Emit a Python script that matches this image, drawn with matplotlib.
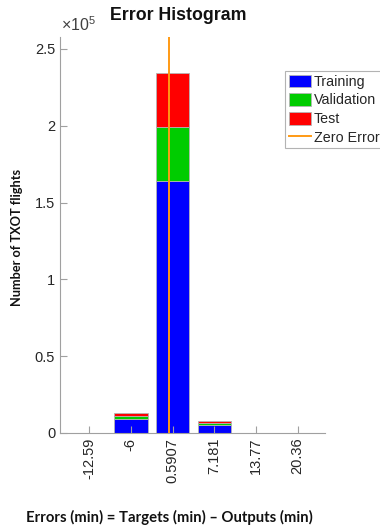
import numpy as np
import matplotlib.pyplot as plt
from matplotlib.ticker import FuncFormatter

bins = [-12.59, -6, 0.5907, 7.181, 13.77, 20.36]
tick_labels = ['-12.59', '-6', '0.5907', '7.181', '13.77', '20.36']
training = [0, 9100, 164300, 5000, 150, 0]
validation = [0, 2200, 35100, 1500, 30, 0]
test = [0, 1900, 35200, 1100, 30, 0]
zero_error = 0

plt.rcParams['font.family'] = ['Liberation Sans', 'DejaVu Sans']
plt.rcParams['mathtext.fontset'] = 'custom'
plt.rcParams['mathtext.rm'] = 'Liberation Sans'

fig = plt.figure(figsize=(3.8, 5.31), dpi=100)
W, H = 380, 531
ax = fig.add_axes([60 / W, 1 - 433 / H, (325 - 60) / W, (433 - 37) / H])

x = np.array(bins)
w = 0.8 * (bins[1] - bins[0])
tr = np.array(training)
va = np.array(validation)
te = np.array(test)
ec = '#b4b4b4'
h1 = ax.bar(x, tr, w, color='#0000ff', edgecolor=ec, linewidth=0.6, label='Training')
h2 = ax.bar(x, va, w, bottom=tr, color='#00cc00', edgecolor=ec, linewidth=0.6, label='Validation')
h3 = ax.bar(x, te, w, bottom=tr + va, color='#ff0000', edgecolor=ec, linewidth=0.6, label='Test')
h4 = ax.axvline(zero_error, color='#ff9a14', linewidth=1.4, label='Zero Error')

ax.set_xlim(-17.2, 24.7)
ax.set_ylim(0, 2.578e5)
ax.set_xticks(bins)
ax.set_xticklabels(tick_labels, rotation=90)
ax.set_yticks([0, 0.5e5, 1e5, 1.5e5, 2e5, 2.5e5])
ax.yaxis.set_major_formatter(FuncFormatter(lambda v, p: f'{v / 1e5:g}'))
ax.tick_params(direction='in', length=5, width=0.8, color='#a0a0a0',
               labelcolor='#262626', labelsize=10.5)
for s in ['top', 'right']:
    ax.spines[s].set_visible(False)
for s in ['left', 'bottom']:
    ax.spines[s].set_color('#a0a0a0')
    ax.spines[s].set_linewidth(0.8)

fig.text(178 / W, 1 - 15 / H, 'Error Histogram', ha='center', va='center',
         fontsize=12.8, fontweight='bold', color='#111111')
fig.text(61 / W, 1 - 25 / H, r'$\times10^5$', ha='left', va='center',
         fontsize=11.5, color='#404040')
fig.text(17 / W, 1 - 237 / H, 'Number of TXOT flights', rotation=90,
         ha='center', va='center', fontsize=9.2, fontweight='bold',
         family=['Lato', 'DejaVu Sans'], color='#111111')
fig.text(169 / W, 1 - 517 / H, 'Errors (min) = Targets (min) \u2013 Outputs (min)',
         ha='center', va='center', fontsize=10.7, fontweight='bold',
         family=['Lato', 'DejaVu Sans'], color='#111111')

leg = ax.legend([h1, h2, h3, h4], ['Training', 'Validation', 'Test', 'Zero Error'],
                loc='upper left', bbox_to_anchor=(285 / W, 1 - 71 / H),
                bbox_transform=fig.transFigure, borderaxespad=0, fancybox=False,
                fontsize=10.3, handlelength=1.6, handleheight=1.0,
                handletextpad=0.15, labelspacing=0.3, borderpad=0.25)
leg.get_frame().set_edgecolor('#a0a0a0')
leg.get_frame().set_linewidth(0.8)
for t in leg.get_texts():
    t.set_color('#262626')

fig.savefig('out.png', dpi=100)
